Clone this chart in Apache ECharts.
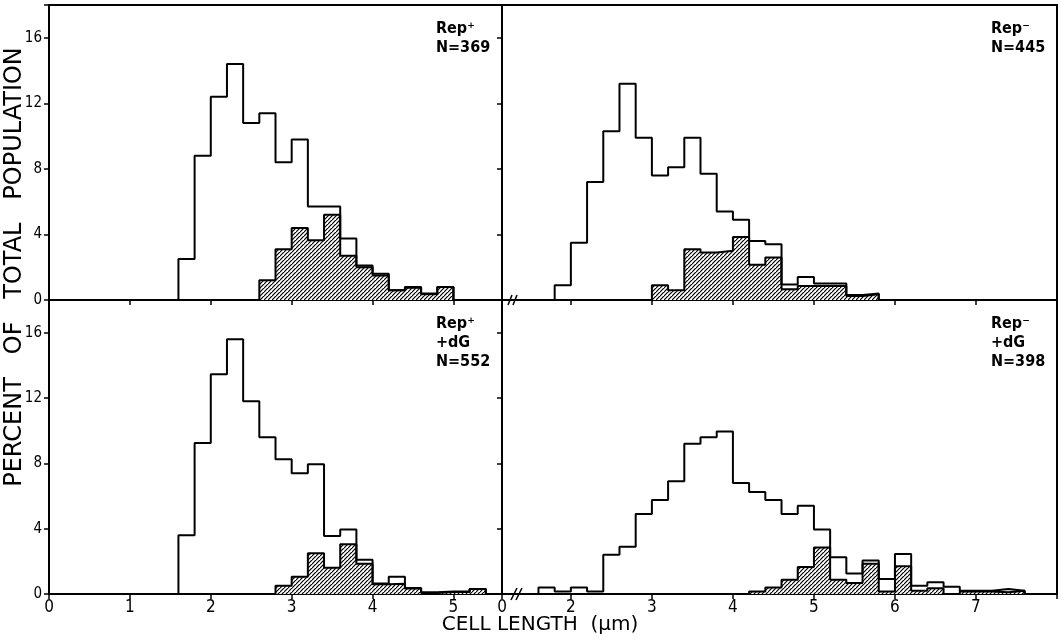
<!DOCTYPE html>
<html><head><meta charset="utf-8">
<script src="https://cdn.jsdelivr.net/npm/echarts@6/dist/echarts.min.js"></script>
<style>html,body{margin:0;padding:0;background:#fff}#c{width:1061px;height:643px}</style>
</head><body><div id="c"></div>
<script>
// ---- data (percent of total population per 0.2 µm bin; bins given by left edge) ----
const binWidth = 0.2;

// Rep+ (N=369)
const repPlusBins    = [1.6,1.8,2.0,2.2,2.4,2.6,2.8,3.0,3.2,3.4,3.6,3.8,4.0,4.2,4.4,4.6,4.8];
const repPlusTotal   = [2.5,8.8,12.4,14.4,10.8,11.4,8.4,9.8,5.7,5.7,3.75,2.1,1.6,0.6,0.8,0.4,0.8];
const repPlusHatched = [0,0,0,0,0,1.2,3.1,4.4,3.65,5.2,2.7,2.0,1.5,0.6,0.75,0.35,0.8];

// Rep- (N=445)
const repMinusBins    = [1.8,2.0,2.2,2.4,2.6,2.8,3.0,3.2,3.4,3.6,3.8,4.0,4.2,4.4,4.6,4.8,5.0,5.2,5.4,5.6];
const repMinusTotal   = [0.9,3.5,7.2,10.3,13.2,9.9,7.6,8.1,9.9,7.7,5.4,4.9,3.6,3.4,0.95,1.4,1.0,1.0,0.3,0.4];
const repMinusHatched = [0,0,0,0,0,0,0.9,0.6,3.1,2.9,3.0,3.85,2.15,2.6,0.65,0.85,0.85,0.85,0.25,0.35];

// Rep+ +dG (N=552)
const repPlusDgBins    = [1.6,1.8,2.0,2.2,2.4,2.6,2.8,3.0,3.2,3.4,3.6,3.8,4.0,4.2,4.4,4.6,4.8,5.0,5.2];
const repPlusDgTotal   = [3.6,9.25,13.45,15.6,11.8,9.6,8.25,7.4,7.95,3.55,3.95,2.1,0.65,1.05,0.37,0.1,0.16,0.16,0.3];
const repPlusDgHatched = [0,0,0,0,0,0,0.5,1.05,2.5,1.6,3.05,1.85,0.6,0.62,0.33,0.06,0.12,0.12,0.3];

// Rep- +dG (N=398)
const repMinusDgBins    = [1.6,1.8,2.0,2.2,2.4,2.6,2.8,3.0,3.2,3.4,3.6,3.8,4.0,4.2,4.4,4.6,4.8,5.0,5.2,5.4,5.6,5.8,6.0,6.2,6.4,6.6,6.8,7.0,7.2,7.4];
const repMinusDgTotal   = [0.4,0.16,0.4,0.16,2.4,2.9,4.9,5.75,6.9,9.2,9.6,9.95,6.8,6.25,5.75,4.9,5.4,3.95,2.25,1.25,2.05,0.92,2.45,0.5,0.72,0.45,0.2,0.2,0.3,0.2];
const repMinusDgHatched = [0,0,0,0,0,0,0,0,0,0,0,0,0,0.16,0.4,0.88,1.65,2.85,0.88,0.68,1.85,0.16,1.7,0.2,0.35,0,0.15,0.15,0.1,0.2];

// panel labels
const panelLabels = [
  ['Rep\u207A', 'N=369'],
  ['Rep\u207B', 'N=445'],
  ['Rep\u207A', '+dG', 'N=552'],
  ['Rep\u207B', '+dG', 'N=398']
];
const yTitle = 'PERCENT   OF   TOTAL   POPULATION';
const xTitle = 'CELL LENGTH  (\u00B5m)';

// ---- helpers ----
function stepPoints(bins, vals) {
  let first = vals.findIndex(v => v > 0);
  const pts = [[bins[first], 0]];
  for (let i = first; i < bins.length; i++) pts.push([bins[i], vals[i]]);
  const end = bins[bins.length - 1] + binWidth;
  pts.push([end, vals[vals.length - 1]]);
  pts.push([end, 0]);
  return pts;
}
function hatch() {
  const s = 4, c = document.createElement('canvas');
  c.width = s; c.height = s;
  const g = c.getContext('2d');
  g.fillStyle = '#fff'; g.fillRect(0, 0, s, s);
  g.strokeStyle = '#000'; g.lineWidth = 1.2;
  g.beginPath();
  g.moveTo(-1, s + 1); g.lineTo(s + 1, -1);
  g.moveTo(-1 - s, s + 1); g.lineTo(1, -1);
  g.moveTo(s - 1, 2 * s + 1); g.lineTo(2 * s + 1, s - 1);
  g.stroke();
  return c;
}
const pattern = { image: hatch(), repeat: 'repeat' };
const FONT = "'DejaVu Sans Condensed', 'DejaVu Sans', sans-serif";
const TITLE_FONT = "'DejaVu Sans', sans-serif";

const grids = [
  { left: 49, top: 5, width: 453, height: 295 },
  { left: 502, top: 5, width: 555, height: 295 },
  { left: 49, top: 300, width: 453, height: 294 },
  { left: 502, top: 300, width: 555, height: 294 }
].map(g => Object.assign(g, { show: true, borderColor: '#000', borderWidth: 2, backgroundColor: 'transparent' }));

const tickStyle = { show: true, inside: false, length: 5, lineStyle: { color: '#000', width: 1.5 } };

const xAxes = [0, 1, 2, 3].map(i => {
  const right = i % 2 === 1, bottom = i >= 2;
  return {
    type: 'value', gridIndex: i,
    min: right ? 1.15 : 0, max: right ? 8 : 5.6,
    splitNumber: right ? 7 : 6,
    splitLine: { show: false }, axisLine: { show: false },
    axisTick: tickStyle,
    axisLabel: {
      show: bottom, color: '#000', fontSize: 17, fontFamily: FONT, margin: 5,
      formatter: v => {
        if (right && Math.abs(v - 1.15) < 1e-6) return '0';
        if (Math.abs(v - Math.round(v)) > 1e-6) return '';
        if (right && v >= 8) return '';
        return String(Math.round(v));
      }
    }
  };
});
const yAxes = [0, 1, 2, 3].map(i => ({
  type: 'value', gridIndex: i, min: 0, max: 18, interval: 4,
  splitLine: { show: false }, axisLine: { show: false },
  axisTick: tickStyle,
  axisLabel: {
    show: i % 2 === 0, color: '#000', fontSize: 15, fontFamily: FONT, margin: 7,
    formatter: v => (v % 4 === 0 ? String(v) : '')
  }
}));

const panels = [
  [repPlusBins, repPlusTotal, repPlusHatched],
  [repMinusBins, repMinusTotal, repMinusHatched],
  [repPlusDgBins, repPlusDgTotal, repPlusDgHatched],
  [repMinusDgBins, repMinusDgTotal, repMinusDgHatched]
];
const series = [];
panels.forEach((p, i) => {
  series.push({
    type: 'line', xAxisIndex: i, yAxisIndex: i, step: 'end', symbol: 'none',
    data: stepPoints(p[0], p[2]),
    lineStyle: { color: '#000', width: 2 },
    areaStyle: { color: pattern, opacity: 1 },
    silent: true, z: 2
  });
  series.push({
    type: 'line', xAxisIndex: i, yAxisIndex: i, step: 'end', symbol: 'none',
    data: stepPoints(p[0], p[1]),
    lineStyle: { color: '#000', width: 2 },
    silent: true, z: 3
  });
});

const labelPos = [[436, 21], [991, 21], [436, 316], [991, 316]];
const graphic = [];
panelLabels.forEach((lines, i) => {
  lines.forEach((t, j) => {
    graphic.push({
      type: 'text', left: labelPos[i][0], top: labelPos[i][1] + j * 19,
      style: { text: t, fill: '#000', font: "bold 16px " + FONT }
    });
  });
});
graphic.push({
  type: 'text', x: 3, y: 267, rotation: Math.PI / 2,
  style: { text: yTitle, fill: '#000', font: "24px " + TITLE_FONT, align: 'center', verticalAlign: 'top' }
});
graphic.push({
  type: 'text', x: 540, y: 615,
  style: { text: xTitle, fill: '#000', font: "20px " + TITLE_FONT, align: 'center', verticalAlign: 'top' }
});
// axis-break marks
[[510, 300], [515, 300]].forEach(([x, y]) => graphic.push({
  type: 'line', shape: { x1: x - 2, y1: y + 5, x2: x + 2, y2: y - 5 }, style: { stroke: '#000', lineWidth: 1.5 }
}));
[[514, 594], [519, 594]].forEach(([x, y]) => graphic.push({
  type: 'line', shape: { x1: x - 3, y1: y + 6, x2: x + 3, y2: y - 6 }, style: { stroke: '#000', lineWidth: 1.5 }
}));

const chart = echarts.init(document.getElementById('c'), null, { renderer: 'canvas' });
chart.setOption({
  animation: false,
  backgroundColor: '#fff',
  textStyle: { fontFamily: FONT },
  grid: grids, xAxis: xAxes, yAxis: yAxes, series, graphic
});
</script></body></html>
